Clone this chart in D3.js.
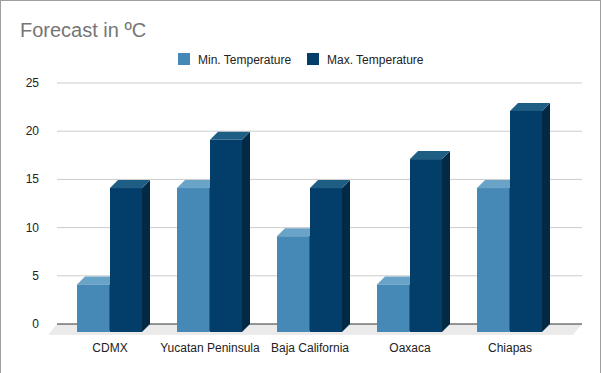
<!DOCTYPE html>
<html>
<head>
<meta charset="utf-8">
<script src="https://cdn.jsdelivr.net/npm/d3@7"></script>
<style>
  body { margin: 0; background: #fff; }
  svg { display: block; font-family: Arial, "Liberation Sans", sans-serif; }
</style>
</head>
<body>
<div id="chart"></div>
<script>
const categories = ['CDMX', 'Yucatan Peninsula', 'Baja California', 'Oaxaca', 'Chiapas'];
const seriesNames = ['Min. Temperature', 'Max. Temperature'];
const minTemps = [4, 14, 9, 4, 14];
const maxTemps = [14, 19, 14, 17, 22];
const yTicks = [0, 5, 10, 15, 20, 25];

const width = 602, height = 373;
const depth = 8;      // 3d offset of the bars
const floorDx = 9, floorDy = 11;

const colors = [
  {front: '#4689b7', top: '#6aa3c8', side: '#2c5f84'},
  {front: '#023e69', top: '#1f5e84', side: '#032a45'}
];

const svg = d3.select('#chart').append('svg')
  .attr('width', width)
  .attr('height', height);

// frame
svg.append('rect')
  .attr('x', 0.5).attr('y', 0.5)
  .attr('width', 600).attr('height', 390)
  .attr('fill', 'none')
  .attr('stroke', '#9e9e9e');

svg.append('text')
  .attr('x', 20).attr('y', 37)
  .attr('font-size', 20)
  .attr('fill', '#757575')
  .text('Forecast in ºC');

// legend
const legendX = [178, 307];
seriesNames.forEach((name, i) => {
  const g = svg.append('g').attr('transform', `translate(${legendX[i]},53)`);
  g.append('rect').attr('width', 12).attr('height', 12).attr('fill', colors[i].front);
  g.append('text').attr('x', 20).attr('y', 10.5)
    .attr('font-size', 12).attr('fill', '#222').text(name);
});

const y = d3.scaleLinear().domain([0, 25]).range([324, 83]);
const x = d3.scaleBand().domain(categories).range([60, 560]);
const xSub = d3.scaleBand().domain([0, 1]).range([-33, 32]).paddingInner(0.03);

const plotLeft = 57, plotRight = 582;

// floor
const y0 = y(0);
svg.append('path')
  .attr('d', `M${plotLeft},${y0}L${plotRight},${y0}L${plotRight - floorDx},${y0 + floorDy}L${plotLeft - floorDx},${y0 + floorDy}Z`)
  .attr('fill', '#ebebeb');

// gridlines
svg.append('g').selectAll('line')
  .data(yTicks.filter(t => t > 0))
  .join('line')
    .attr('x1', plotLeft).attr('x2', plotRight)
    .attr('y1', d => y(d)).attr('y2', d => y(d))
    .attr('stroke', '#cccccc');

svg.append('line')
  .attr('x1', plotLeft).attr('x2', plotRight)
  .attr('y1', y0).attr('y2', y0)
  .attr('stroke', '#333');

// y axis labels
svg.append('g').selectAll('text')
  .data(yTicks)
  .join('text')
    .attr('x', 39)
    .attr('y', d => y(d) + 4)
    .attr('text-anchor', 'end')
    .attr('font-size', 12)
    .attr('fill', '#222')
    .text(d => d);

// bars
const rows = categories.map((c, i) => ({cat: c, values: [minTemps[i], maxTemps[i]]}));
const bars = [];
rows.forEach(r => r.values.forEach((v, s) => bars.push({cat: r.cat, s, v})));

const barG = svg.append('g');
bars.forEach(d => {
  const cx = x(d.cat) + x.bandwidth() / 2;
  const x0 = cx + xSub(d.s), x1 = x0 + xSub.bandwidth();
  const yt = y(d.v) - 1, yb = y0 + depth;
  const g = barG.append('g');
  g.append('path')
    .attr('d', `M${x1},${yt}L${x1 + depth},${yt - depth}L${x1 + depth},${yb - depth}L${x1},${yb}Z`)
    .attr('fill', colors[d.s].side);
  g.append('path')
    .attr('d', `M${x0},${yt}L${x1},${yt}L${x1 + depth},${yt - depth}L${x0 + depth},${yt - depth}Z`)
    .attr('fill', colors[d.s].top);
  g.append('rect')
    .attr('x', x0).attr('y', yt)
    .attr('width', x1 - x0).attr('height', yb - yt)
    .attr('fill', colors[d.s].front);
});

// category labels
svg.append('g').selectAll('text')
  .data(categories)
  .join('text')
    .attr('x', d => x(d) + x.bandwidth() / 2)
    .attr('y', 352)
    .attr('text-anchor', 'middle')
    .attr('font-size', 12)
    .attr('fill', '#222')
    .text(d => d);
</script>
</body>
</html>
